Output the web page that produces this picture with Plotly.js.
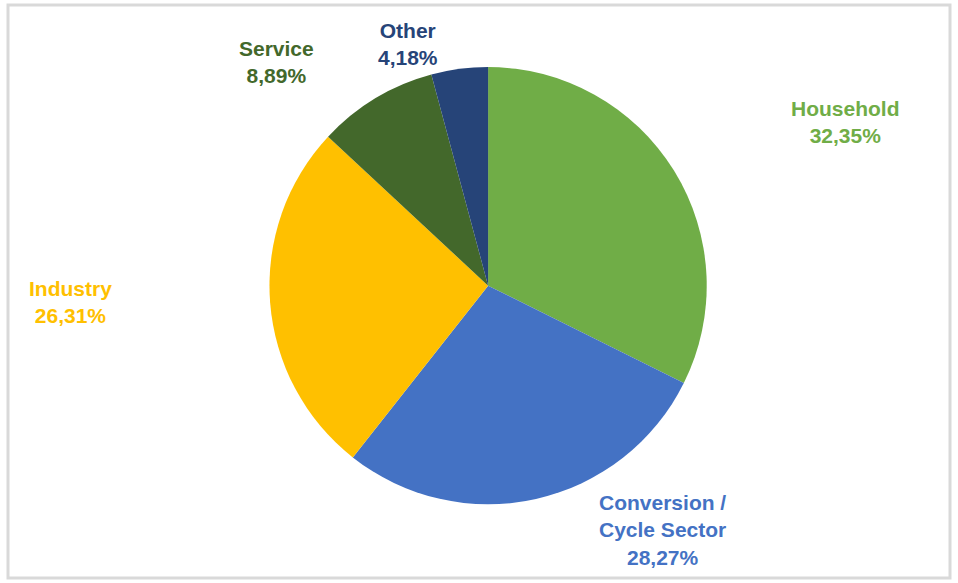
<!DOCTYPE html>
<html>
<head>
<meta charset="utf-8">
<script src="https://cdn.plot.ly/plotly-3.0.1.min.js"></script>
<style>html,body{margin:0;padding:0;background:#fff;}#chart{width:958px;height:583px;}</style>
</head>
<body>
<div id="chart"></div>
<script>
var categories = ["Household", "Conversion /<br>Cycle Sector", "Industry", "Service", "Other"];
var shares = [32.35, 28.27, 26.31, 8.89, 4.18];
var shareLabels = ["32,35%", "28,27%", "26,31%", "8,89%", "4,18%"];

var sliceColors = ["#70ad47", "#4472c4", "#ffc000", "#43682b", "#264478"];
var labelColors = ["#70ad47", "#4472c4", "#ffc000", "#43682b", "#264478"];
var labelPos = [[845, 122], [662, 530], [70, 302], [276, 62], [408, 44]];

var W = 958, H = 583;
var annotations = categories.map(function (c, i) {
  return {
    xref: "paper", yref: "paper",
    x: labelPos[i][0] / W, y: 1 - labelPos[i][1] / H,
    xanchor: "center", yanchor: "middle",
    text: "<b>" + c + "<br>" + shareLabels[i] + "</b>",
    showarrow: false,
    font: {family: "Liberation Sans, Arial, sans-serif", size: 21, color: labelColors[i]},
    align: "center"
  };
});

var trace = {
  type: "pie",
  labels: categories,
  values: shares,
  sort: false,
  direction: "clockwise",
  rotation: 0,
  textinfo: "none",
  hoverinfo: "label+percent",
  marker: {colors: sliceColors, line: {color: "#ffffff", width: 0}},
  domain: {x: [0.28, 0.739], y: [0.135, 0.885]},
  showlegend: false
};

var layout = {
  width: W, height: H,
  margin: {l: 0, r: 0, t: 0, b: 0},
  paper_bgcolor: "#ffffff",
  annotations: annotations,
  shapes: [{
    type: "rect", xref: "paper", yref: "paper",
    x0: 8 / W, x1: 950 / W, y0: 1 - 578 / H, y1: 1 - 5 / H,
    line: {color: "#d9d9d9", width: 3}
  }]
};

Plotly.newPlot("chart", [trace], layout, {displayModeBar: false, staticPlot: true});
</script>
</body>
</html>
